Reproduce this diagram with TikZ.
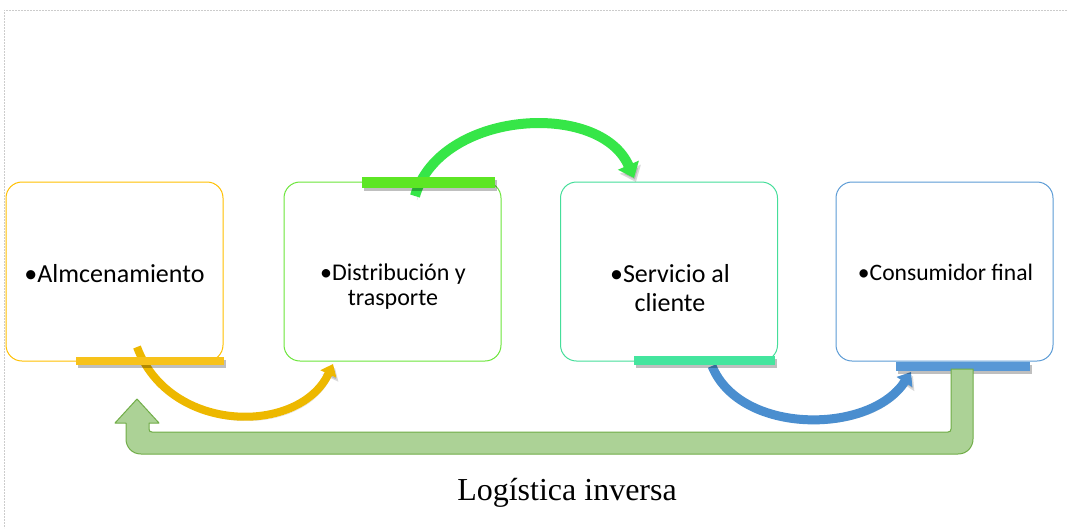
\documentclass[tikz,border=0pt]{standalone}
\usepackage{fontspec}
\setmainfont{Carlito}
\newfontfamily\serifface{Liberation Serif}
\usetikzlibrary{arrows.meta,shadows}
\definecolor{cyel}{HTML}{FFC000}
\definecolor{cyelbar}{HTML}{F7C21A}
\definecolor{cyelarc}{HTML}{EDB800}
\definecolor{cgrn}{HTML}{6BE53A}
\definecolor{cgrnbar}{HTML}{5DE624}
\definecolor{cgrnarc}{HTML}{36E648}
\definecolor{cteal}{HTML}{45DE9A}
\definecolor{ctealbar}{HTML}{44E59E}
\definecolor{cblue}{HTML}{5B9BD5}
\definecolor{cbluebar}{HTML}{5898D6}
\definecolor{cbluearc}{HTML}{4A8ECF}
\definecolor{cretfill}{HTML}{ACD296}
\definecolor{cretline}{HTML}{70AD47}
\tikzset{
  stagebox/.style={draw, line width=1pt, rounded corners=16pt, minimum width=217pt, minimum height=179pt, inner sep=0pt, fill=white},
  stagetext/.style={anchor=base, align=center, inner sep=0pt},
  barnode/.style={inner sep=0pt, minimum height=#1, drop shadow={shadow xshift=2pt, shadow yshift=-3pt, opacity=0.25, fill=black}},
  flowarc/.style={line width=#1, preaction={draw=black, opacity=0.15, transform canvas={xshift=2pt,yshift=-4pt}}},
}
\begin{document}
\begin{tikzpicture}[x=1pt,y=-1pt]
\useasboundingbox (0,0) rectangle (1067,528);
\draw[gray!40, line width=0.8pt, dash pattern=on 2pt off 1pt] (1067,10) -- (4,10) -- (4,528);

% boxes
\node[stagebox, draw=cyel] (b1) at (114.5,271.5) {};
\node[stagebox, draw=cgrn] (b2) at (392.5,271.5) {};
\node[stagebox, draw=cteal] (b3) at (669,271.5) {};
\node[stagebox, draw=cblue] (b4) at (944.5,271.5) {};

% texts (base anchor = last line)
\node[stagetext, font=\fontsize{26}{30}\selectfont] (t1) at (114.5,282) {•Almcenamiento};
\node[stagetext, font=\fontsize{24}{25}\selectfont] (t2) at (393,305) {•Distribución y\\trasporte};
\node[stagetext, font=\fontsize{26}{29}\selectfont] (t3) at (670,311) {•Servicio al\\cliente};
\node[stagetext, font=\fontsize{23.6}{26}\selectfont] (t4) at (945.5,280) {•Consumidor final};

% curve endpoints
\coordinate (y0) at (137,347);
\coordinate (y1) at (333,364);
\coordinate (g0) at (415,196);
\coordinate (g1) at (634,178);
\coordinate (u0) at (712,366);
\coordinate (u1) at (911,372);

% curved arrows
\draw[flowarc=8pt, cyelarc, -{Triangle[length=11pt,width=17pt]}] (y0) .. controls (170,435) and (300,435) .. (y1);
\draw[flowarc=10pt, cgrnarc, -{Triangle[length=14pt,width=22pt]}] (g0) .. controls (440,110) and (600,100) .. (g1);
\draw[flowarc=9pt, cbluearc, -{Triangle[length=12pt,width=18pt]}] (u0) .. controls (740,435) and (870,435) .. (u1);

% bars
\node[barnode=8pt, fill=cyelbar, minimum width=148pt] (bar1) at (150,361) {};
\node[barnode=11pt, fill=cgrnbar, minimum width=133pt] (bar2) at (428.5,182) {};
\node[barnode=9pt, fill=ctealbar, minimum width=141pt] (bar3) at (704.5,360.5) {};
\node[barnode=9pt, fill=cbluebar, minimum width=134pt] (bar4) at (963,366.5) {};

% return arrow
\draw[cretline, fill=cretfill, line width=1pt, line join=round]
  (951,369) -- (973,369) -- (973,439) .. controls (973,447) and (967,454) .. (958,454)
  -- (141,454) .. controls (132,454) and (126,447) .. (126,439) -- (126,423) -- (115,423)
  -- (137,399) -- (159,423) -- (149,423) -- (149,429) .. controls (149,431) and (150,432) .. (152,432)
  -- (948,432) .. controls (950,432) and (951,431) .. (951,429) -- cycle;

\node[anchor=base, inner sep=0pt, font=\serifface\fontsize{32}{36}\selectfont] (lbl) at (567,500) {Logística inversa};
\end{tikzpicture}
\end{document}
